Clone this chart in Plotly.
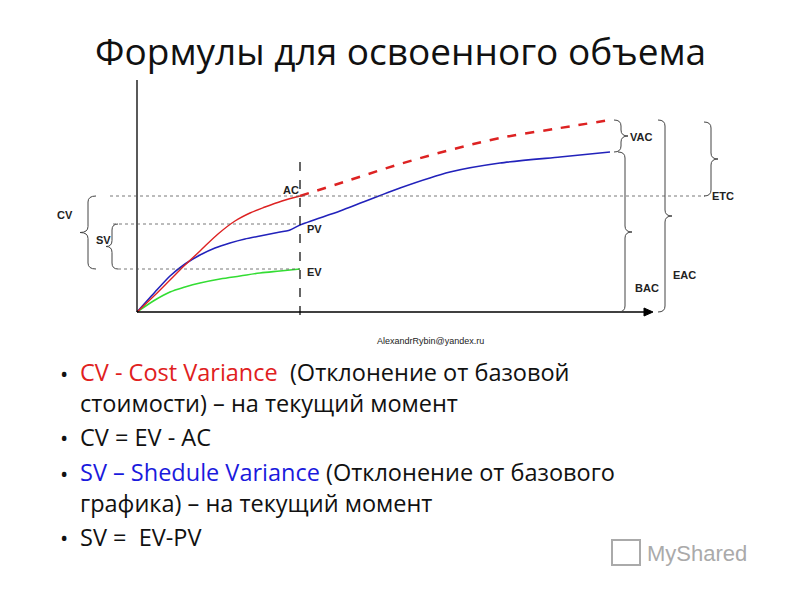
import plotly.graph_objects as go

# Chart data (screen-like units; y grows downward)
ac_x = [137, 155, 170, 185, 200, 218, 235, 250, 265, 282, 300]
ac_y = [312, 295, 280, 265, 251, 234, 221, 213, 207, 201, 196]
ac_f_x = [300, 350, 400, 450, 500, 560, 610]
ac_f_y = [196, 180, 164, 150, 138, 128, 120]
pv_x = [137, 155, 170, 185, 200, 215, 230, 245, 260, 275, 290, 300, 340, 400, 450, 500, 560, 610]
pv_y = [312, 292, 276, 264, 255, 248, 243, 239, 236, 233, 230, 225, 211, 188, 172, 163, 157, 152]
ev_x = [137, 155, 170, 185, 200, 220, 240, 260, 280, 300]
ev_y = [312, 300, 292, 287, 283, 279, 276, 273, 271, 269]

fig = go.Figure()
fig.add_trace(go.Scatter(x=ev_x, y=ev_y, mode="lines", line=dict(color="#33dd33", width=1.6, shape="spline")))
fig.add_trace(go.Scatter(x=pv_x, y=pv_y, mode="lines", line=dict(color="#2222bb", width=1.6, shape="spline", smoothing=0.6)))
fig.add_trace(go.Scatter(x=ac_x, y=ac_y, mode="lines", line=dict(color="#dd2222", width=1.4, shape="spline")))
fig.add_trace(go.Scatter(x=ac_f_x, y=ac_f_y, mode="lines", line=dict(color="#dd2222", width=2.5, dash="dash", shape="spline")))

shapes = []
shapes.append(dict(type="line", x0=137, y0=312, x1=137, y1=80, line=dict(color="black", width=1.3)))
shapes.append(dict(type="line", x0=137, y0=312, x1=650, y1=312, line=dict(color="black", width=1.3)))
shapes.append(dict(type="path", path="M 644,308 L 653,312 L 644,316 Z", fillcolor="black", line=dict(color="black", width=1)))
shapes.append(dict(type="line", x0=300, y0=162, x1=300, y1=320, line=dict(color="black", width=1.2, dash="dash")))
for y, x0, x1 in [(196, 110, 705), (224, 113, 300), (269, 118, 300)]:
    shapes.append(dict(type="line", x0=x0, y0=y, x1=x1, y1=y, line=dict(color="#555", width=0.8, dash="dot")))

def brace(x, y1, y2, w):
    r = min(6, (y2 - y1) / 4)
    h = x + w
    m = x + w / 2
    ym = (y1 + y2) / 2
    return (f"M {h},{y1} Q {m},{y1} {m},{y1+r} L {m},{ym-r} Q {m},{ym} {x},{ym} "
            f"Q {m},{ym} {m},{ym+r} L {m},{y2-r} Q {m},{y2} {h},{y2}")

for x, y1, y2, w in [(80, 196, 269, 16), (106, 224, 269, 12),
                     (628, 120, 152, -14), (632, 152, 312, -14),
                     (672, 120, 312, -14), (718, 122, 196, -14)]:
    shapes.append(dict(type="path", path=brace(x, y1, y2, w), line=dict(color="#444", width=1)))

ann = []
for t, x, y in [("AC", 291, 190), ("PV", 314, 229), ("EV", 314, 272), ("CV", 65, 215), ("SV", 103, 240),
                ("VAC", 641, 137), ("BAC", 647, 288), ("EAC", 684, 275), ("ETC", 723, 196)]:
    ann.append(dict(x=x, y=y, text="<b>" + t + "</b>", showarrow=False, font=dict(size=11, color="#222", family="Arial")))
ann.append(dict(x=430, y=341, text="AlexandrRybin@yandex.ru", showarrow=False, font=dict(size=9, color="#222", family="Arial")))
ann.append(dict(x=400, y=50, text="Формулы для освоенного объема", showarrow=False, font=dict(size=37, color="#111", family="Open Sans")))

bul = [
    (387, 373, "<span style='color:#e02020'>CV - Cost Variance</span>  (Отклонение от базовой<br>стоимости) – на текущий момент"),
    (437, 437, "CV = EV - AC"),
    (487, 473, "<span style='color:#1a1add'>SV – Shedule Variance</span> (Отклонение от базового<br>графика) – на текущий момент"),
    (537, 537, "SV =  EV-PV"),
]
for y, yb, t in bul:
    ann.append(dict(x=58, y=yb, text="•", showarrow=False, xanchor="left", font=dict(size=22, color="#111", family="Open Sans")))
    ann.append(dict(x=78, y=y, text=t, showarrow=False, xanchor="left", align="left",
                    font=dict(size=23.5, color="#111", family="Open Sans")))
ann.append(dict(x=645, y=553, text="MyShared", showarrow=False, xanchor="left", font=dict(size=22, color="#aaa", family="Arial")))
shapes.append(dict(type="rect", x0=612, y0=540, x1=640, y1=565, line=dict(color="#aaa", width=2)))

fig.update_layout(width=800, height=600, margin=dict(l=0, r=0, t=0, b=0), showlegend=False,
                  plot_bgcolor="white", paper_bgcolor="white", shapes=shapes, annotations=ann,
                  xaxis=dict(range=[8, 808], visible=False, fixedrange=True),
                  yaxis=dict(range=[608, 8], visible=False, fixedrange=True))
fig.write_html("out.html")
